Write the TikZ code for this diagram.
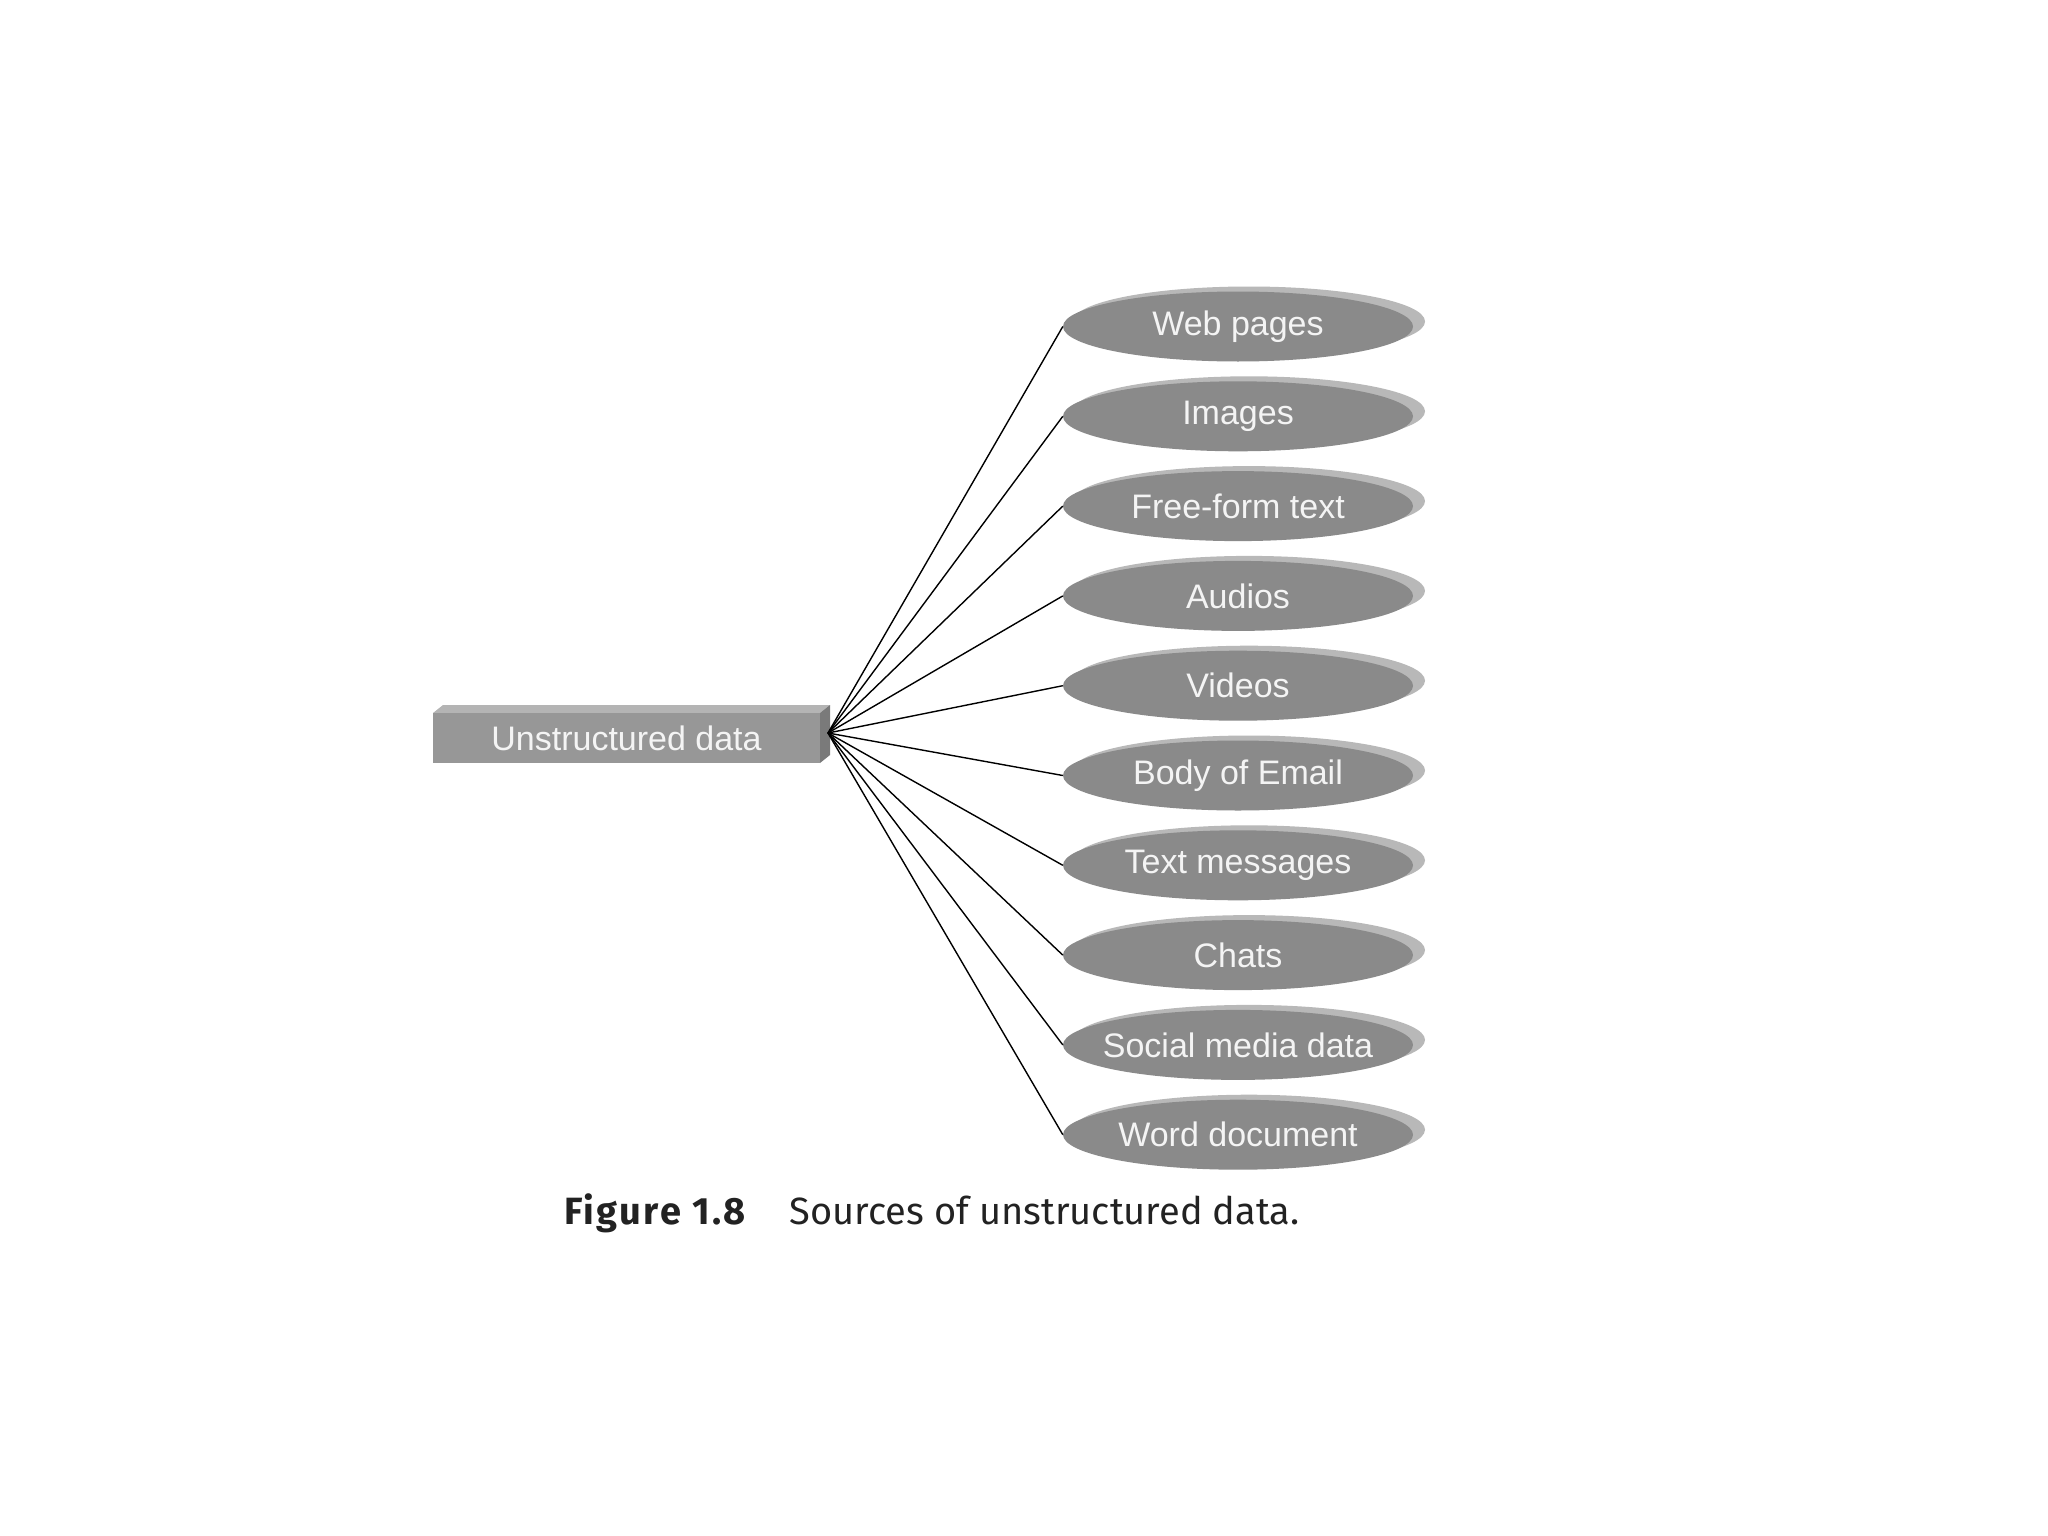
\documentclass[tikz,border=0pt]{standalone}
\usepackage{fontspec}
\setmainfont{Liberation Sans}
\newfontfamily\capfont{Fira Sans}
\newfontfamily\capbold[LetterSpace=6]{Fira Sans Bold}
\usetikzlibrary{shapes.geometric}
\definecolor{ellfill}{HTML}{8A8A8A}
\definecolor{ellhi}{HTML}{B8B8B8}
\definecolor{boxfill}{HTML}{979797}
\definecolor{boxtop}{HTML}{B4B4B4}
\definecolor{boxside}{HTML}{7A7A7A}
\definecolor{labtext}{HTML}{F4F4F4}
\definecolor{captext}{HTML}{222222}
\tikzset{
  srcell/.style={ellipse, minimum width=350pt, minimum height=70pt, inner xsep=-30pt, inner ysep=0pt,
    fill=ellfill, text=labtext, font=\fontsize{34}{40}\selectfont},
  srcbox/.style={rectangle, minimum width=387pt, minimum height=50pt, inner sep=0pt,
    fill=boxfill, text=labtext, font=\fontsize{34}{40}\selectfont},
  link/.style={draw=black, line width=1.4pt},
  caption/.style={anchor=west, inner sep=0pt, text=captext, font=\capfont\fontsize{38}{44}\selectfont}
}
\begin{document}
\begin{tikzpicture}[x=1pt,y=-1pt]
\useasboundingbox[fill=white] (0,0) rectangle (2048,1536);
% box 3D faces
\fill[boxtop] (433,713) -- (443,705) -- (830,705) -- (820,713) -- cycle;
\fill[boxside] (820,713) -- (830,705) -- (830,755) -- (820,763) -- cycle;
\node[srcbox] (src) at (626.5,738) {Unstructured data};
\coordinate (hub) at (828,733);
% ellipses
\foreach \i/\lab in {0/Web pages,1/Images,2/Free-form text,3/Audios,4/Videos,5/Body of Email,6/Text messages,7/Chats,8/Social media data,9/Word document}{
  \pgfmathsetmacro{\yy}{326.5+89.8*\i}
  \fill[ellhi] (1249,\yy-5) ellipse [x radius=176pt, y radius=35pt];
  \node[srcell] (e\i) at (1238,\yy) {\lab};
  \draw[link] (hub) -- (e\i.west);
}
\node[caption] (cap) at (564,1213) {{\capbold Figure 1.8}\hspace{44pt}Sources of unstructured data.};
\end{tikzpicture}
\end{document}
